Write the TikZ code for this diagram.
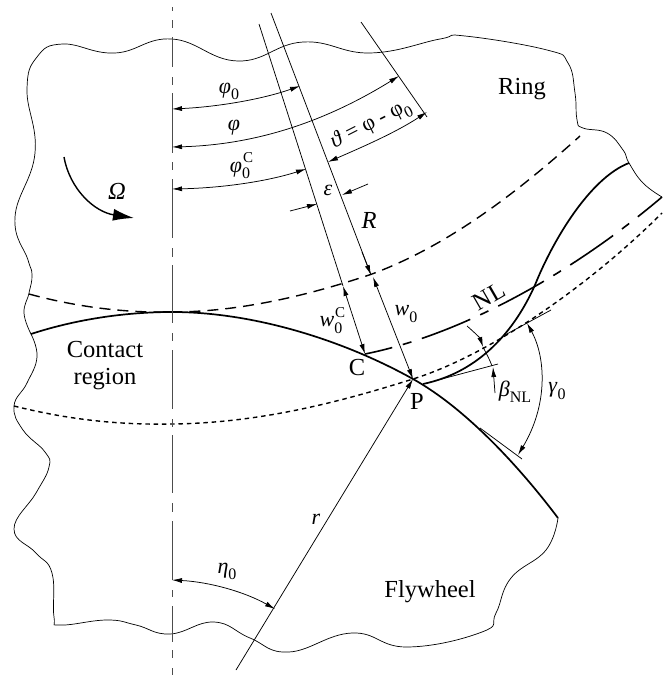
\documentclass[tikz,border=0pt]{standalone}
\usepackage{fontspec}
\setmainfont{Liberation Serif}
\usetikzlibrary{arrows.meta}
\newcommand{\iv}[1]{\textit{#1}}
\newcommand{\sbb}[1]{\raisebox{-0.28em}{\fontsize{16}{16}\selectfont #1}}
\tikzset{
  x=1pt,y=-1pt,
  thinl/.style={line width=0.75pt,black},
  outline/.style={line width=0.7pt,black},
  heavy/.style={line width=1.7pt,black},
  axisl/.style={line width=0.9pt,black!70},
  arr/.style={line width=0.75pt,{Latex[length=10pt,width=5pt]}-{Latex[length=10pt,width=5pt]}},
  arrone/.style={line width=0.75pt,-{Latex[length=10pt,width=5pt]}},
  lab/.style={inner sep=0pt,font=\fontsize{22}{24}\selectfont},
  word/.style={inner sep=0pt,font=\fontsize{24.5}{27}\selectfont},
  supc/.style={inner sep=0pt,font=\fontsize{15}{15}\selectfont}
}
\begin{document}
\begin{tikzpicture}
\useasboundingbox (0,0) rectangle (662,675);
% outline
\draw[outline] plot[smooth,tension=0.75] coordinates {
 (31,334) (24,313) (29,293) (32,275) (28,260) (15,217) (35,153) (27,90) (37,57) (63,44) (115,53) (172,39) (238,61) (303,42) (370,53)
 (440,39) (465,36) (547,50) (568,63) (575,93) (577,120) (583,128) (607,133) (623,150) (629,163) (643,183) (662,197)};
\draw[outline] plot[smooth,tension=0.75] coordinates {
 (31,334) (37,357) (27,383) (14,406) (23,430) (45,452) (49,467) (36,493) (14,529) (36,553) (52,573) (54,617) (61,625)
 (107,620) (136,625) (170,634) (214,622) (250,638) (289,652) (352,633) (407,647) (482,632) (496,613) (511,578) (546,550) (558,518)};
% dashed ring inner
\coordinate (Dstart) at (29,294);
\coordinate (Dend) at (580,136);
\draw[line width=1.4pt,dash pattern=on 11pt off 7pt] (Dstart) .. controls (80,308) and (130,313) .. (172,312)
  .. controls (240,312) and (310,295) .. (372,274) .. controls (450,245) and (520,190) .. (Dend);
% contact / solid
\draw[heavy] (31,334) .. controls (80,318) and (130,312) .. (172,312)
  .. controls (255,312) and (345,341) .. (413,379) .. controls (465,408) and (518,465) .. (558,518);
\draw[heavy] (423,384) .. controls (480,372) and (515,330) .. (535,285) .. controls (553,240) and (590,178) .. (629,163);
% NL
\draw[line width=1.6pt,dash pattern=on 52pt off 11pt on 9pt off 11pt,dash phase=24pt] (365,354) .. controls (460,335) and (570,275) .. (662,197);
% dotted
\draw[line width=1.4pt,dash pattern=on 4.5pt off 3.8pt] (14,406) .. controls (70,420) and (120,425) .. (172,424)
  .. controls (260,423) and (340,402) .. (413,379) .. controls (490,355) and (590,285) .. (662,213);
% axis
\draw[axisl] (172,7)--(172,11) (172,20)--(172,28) (172,37)--(172,67) (172,77)--(172,85) (172,93)--(172,153)
 (172,162)--(172,170) (172,179)--(172,238) (172,248)--(172,257) (172,265)--(172,323) (172,333)--(172,341)
 (172,350)--(172,409) (172,419)--(172,427) (172,435)--(172,493) (172,503)--(172,512) (172,521)--(172,580)
 (172,590)--(172,597) (172,606)--(172,642) (172,650)--(172,658) (172,668)--(172,675);
% radial lines
\coordinate (Pp) at (413,379);
\coordinate (Cc) at (365,354);
\coordinate (Aa) at (259,24);
\coordinate (Bb) at (271,13);
\coordinate (Dd) at (361,22);
\coordinate (Ee) at (427,117);
\coordinate (Rr) at (236,670);
\draw[thinl] (Aa) -- (343,286);
\draw[thinl] (Bb) -- (371,275);
\draw[thinl] (Dd) -- (Ee);
\draw[arrone] (Rr) -- (Pp);
\draw[thinl] (423,384) -- (498,364);
\draw[thinl] (505,335) -- (551,310);
\draw[thinl] (480,428) -- (522,459);
% angle arrows
\draw[arr] (172,109) .. controls (215,107) and (260,100) .. (300,86);
\draw[arr] (172,147) .. controls (250,145) and (320,125) .. (399,76);
\draw[arr] (172,189) .. controls (220,188) and (265,182) .. (306,169);
\draw[arr] (328,162) .. controls (360,148) and (395,133) .. (427,112);
\draw[arrone] (290,211) -- (317,204);
\draw[arrone] (368,184) -- (342,195);
\draw[arr] (343,286) -- (Cc);
\draw[arr] (373,277) -- (Pp);
\draw[arrone] (362,252) -- (371,275);
\draw[arrone] (467,326) .. controls (474,332) and (480,338) .. (483,347);
\draw[thinl] (483,347) .. controls (486,353) and (490,360) .. (492,366);
\draw[arrone] (495,393) -- (493,367);
\draw[arr] (527,323) .. controls (546,358) and (548,405) .. (518,455);
\draw[arr] (172,580) .. controls (210,582) and (245,592) .. (275,609);
% Omega arrow
\draw[line width=1.4pt,-{Latex[length=21pt,width=12pt]}] (64,157) .. controls (70,190) and (95,212) .. (134,218);
% labels
\node[lab] (t1) at (229,91) {\iv{φ}\sbb{0}};
\node[lab] (t2) at (234,128) {\iv{φ}};
\node[lab] (t3) at (240,170) {\iv{φ}\sbb{0}};
\node[supc] (t3b) at (248,158) {C};
\node[lab,rotate=27] (t4) at (371,125) {\iv{ϑ} = φ - φ\sbb{0}};
\node[lab] (t5) at (328,190) {\iv{ε}};
\node[word] (t6) at (369,220) {\iv{R}};
\node[word] (ring) at (522,89) {Ring};
\node[word] (om) at (117,191) {\iv{Ω}};
\node[word,align=center] (cr) at (105,366) {Contact\\region};
\node[lab] (w0c) at (331,325) {\iv{w}\sbb{0}};
\node[supc] (w0cc) at (340,313) {C};
\node[lab] (w0) at (406,314) {\iv{w}\sbb{0}};
\node[word,rotate=30] (nl) at (489,296) {NL};
\node[word] (cl) at (357,368) {C};
\node[word] (pl) at (417,401) {P};
\node[lab] (beta) at (515,392) {\iv{β}\sbb{NL}};
\node[lab] (gam) at (557,391) {\iv{γ}\sbb{0}};
\node[lab] (rl) at (316,519) {\iv{r}};
\node[lab] (eta) at (227,571) {\iv{η}\sbb{0}};
\node[word] (fw) at (430,592) {Flywheel};
\end{tikzpicture}
\end{document}
